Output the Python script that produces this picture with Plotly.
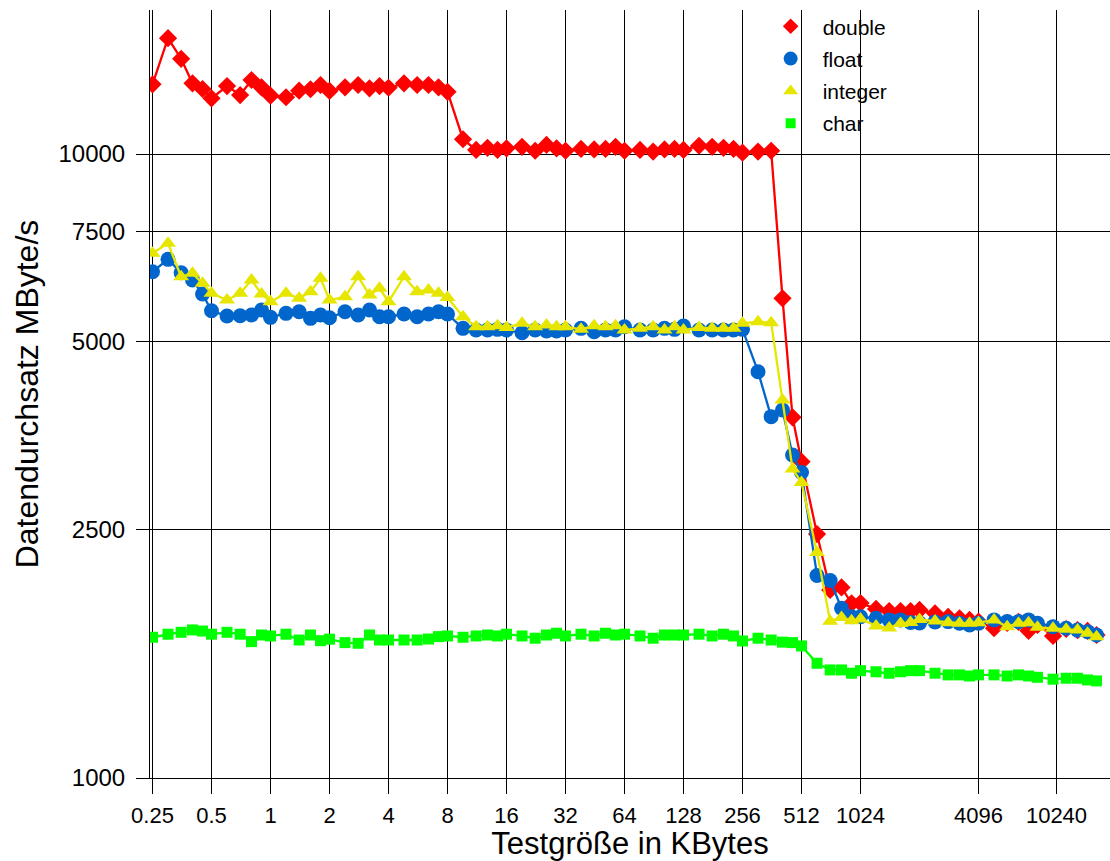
import plotly.graph_objects as go

sizes_kb = [0.25, 0.3, 0.35, 0.4, 0.45,
            0.5, 0.6, 0.7, 0.8, 0.9,
            1, 1.2, 1.4, 1.6, 1.8,
            2, 2.4, 2.8, 3.2, 3.6,
            4, 4.8, 5.6, 6.4, 7.2,
            8, 9.6, 11.2, 12.8, 14.4,
            16, 19.2, 22.4, 25.6, 28.8,
            32, 38.4, 44.8, 51.2, 57.6,
            64, 76.8, 89.6, 102.4, 115.2,
            128, 153.6, 179.2, 204.8, 230.4,
            256, 307.2, 358.4, 409.6, 460.8,
            512, 614.4, 716.8, 819.2, 921.6,
            1024, 1228.8, 1433.6, 1638.4, 1843.2,
            2048, 2457.6, 2867.2, 3276.8, 3686.4,
            4096, 4915.2, 5734.4, 6553.6, 7372.8,
            8192, 9830.4, 11468.8, 13107.2, 14745.6,
            16384]

double_vals = [12930, 15330, 14210, 12980, 12710,
               12280, 12850, 12430, 13140, 12790,
               12400, 12330, 12630, 12700, 12900,
               12620, 12790, 12900, 12740, 12850,
               12770, 12980, 12900, 12900, 12790,
               12580, 10560, 10150, 10230, 10150,
               10210, 10270, 10120, 10340, 10210,
               10120, 10190, 10170, 10190, 10270,
               10120, 10150, 10090, 10170, 10190,
               10150, 10310, 10270, 10230, 10190,
               10050, 10090, 10120, 5871, 3785,
               3213, 2460, 2001, 2020, 1905,
               1907, 1866, 1852, 1852, 1852,
               1859, 1836, 1813, 1803, 1792,
               1781, 1738, 1772, 1779, 1721,
               1759, 1689, 1733, 1726, 1721,
               1695]

float_vals = [6476, 6779, 6452, 6281, 5965,
              5608, 5500, 5506, 5520, 5623,
              5473, 5554, 5587, 5453, 5520,
              5465, 5587, 5520, 5623, 5485,
              5485, 5540, 5485, 5540, 5587,
              5540, 5255, 5222, 5222, 5236,
              5222, 5170, 5222, 5203, 5203,
              5222, 5255, 5190, 5222, 5222,
              5287, 5222, 5222, 5255, 5236,
              5300, 5222, 5222, 5222, 5222,
              5236, 4478, 3794, 3889, 3294,
              3087, 2111, 2073, 1871, 1813,
              1813, 1803, 1792, 1792, 1775,
              1772, 1779, 1781, 1770, 1759,
              1770, 1792, 1781, 1781, 1792,
              1770, 1748, 1738, 1726, 1716,
              1695]

integer_vals = [6931, 7192, 6358, 6438, 6205,
                5980, 5834, 5980, 6281, 5965,
                5797, 5980, 5871, 6015, 6320,
                5834, 5905, 6358, 5943, 6091,
                5797, 6358, 6015, 6053, 5980,
                5890, 5485, 5287, 5287, 5306,
                5274, 5353, 5287, 5320, 5287,
                5287, 5236, 5306, 5287, 5306,
                5222, 5255, 5287, 5222, 5287,
                5222, 5274, 5255, 5255, 5255,
                5353, 5385, 5366, 4035, 3127,
                2976, 2298, 1784, 1808, 1786,
                1798, 1753, 1740, 1769, 1775,
                1794, 1785, 1774, 1770, 1770,
                1774, 1792, 1748, 1770, 1774,
                1744, 1738, 1731, 1726, 1706,
                1684]

char_vals = [1681, 1700, 1712, 1727, 1720,
             1700, 1712, 1700, 1654, 1695,
             1689, 1700, 1664, 1695, 1660,
             1669, 1648, 1644, 1695, 1664,
             1664, 1664, 1664, 1670, 1685,
             1689, 1681, 1689, 1695, 1689,
             1700, 1689, 1675, 1695, 1706,
             1689, 1700, 1689, 1706, 1695,
             1700, 1689, 1675, 1695, 1695,
             1695, 1700, 1689, 1700, 1689,
             1658, 1675, 1664, 1651, 1648,
             1628, 1527, 1490, 1490, 1472,
             1486, 1480, 1472, 1480, 1486,
             1486, 1472, 1463, 1463, 1457,
             1463, 1463, 1457, 1463, 1457,
             1450, 1440, 1445, 1445, 1436,
             1431]

x_tickvals = [0.25, 0.5, 1, 2, 4, 8, 16, 32, 64, 128, 256, 512, 1024, 4096, 10240]
x_ticktext = ["0.25", "0.5", "1", "2", "4", "8", "16", "32", "64", "128", "256", "512", "1024", "4096", "10240"]
y_tickvals = [1000, 2500, 5000, 7500, 10000]
y_ticktext = ["1000", "2500", "5000", "7500", "10000"]

series = [
    ("double", double_vals, "#ff0000", "diamond", 14, 12, 2.3),
    ("float", float_vals, "#0066cc", "circle", 15, 14, 2.3),
    ("integer", integer_vals, "#e6e600", "triangle-up", 14, 13, 2.3),
    ("char", char_vals, "#00ff00", "square", 11, 10, 2.3),
]

FONT = "Arial, Liberation Sans, Helvetica, sans-serif"

fig = go.Figure()
for name, vals, color, sym, msize, lsize, lw in series:
    fig.add_trace(go.Scatter(
        x=sizes_kb, y=vals, mode="lines+markers", name=name,
        line=dict(color=color, width=lw),
        marker=dict(symbol=sym, size=msize, color=color, line=dict(width=0)),
        showlegend=False,
    ))
for name, vals, color, sym, msize, lsize, lw in series:
    fig.add_trace(go.Scatter(
        x=[None], y=[None], mode="markers", name=name,
        marker=dict(symbol=sym, size=lsize, color=color, line=dict(width=0)),
        showlegend=True, legendgroup=name,
    ))

axis_common = dict(
    showgrid=True, gridcolor="black", gridwidth=1,
    showline=True, linecolor="black", linewidth=1,
    ticks="outside", tickcolor="black", tickwidth=1,
    zeroline=False, automargin=False,
)

fig.update_layout(
    width=1110, height=861,
    margin=dict(l=150, r=0, t=10, b=83),
    paper_bgcolor="white", plot_bgcolor="white",
    font=dict(family=FONT, color="black"),
    xaxis=dict(
        type="log", range=[-0.6148, 4.2832],
        tickmode="array", tickvals=x_tickvals, ticktext=x_ticktext,
        ticklen=15, ticklabelstandoff=3,
        tickfont=dict(family=FONT, size=22, color="black"),
        title=dict(text="Testgröße in KBytes", font=dict(family=FONT, size=31, color="black"), standoff=9),
        **axis_common,
    ),
    yaxis=dict(
        type="log", range=[3, 4.23077],
        tickmode="array", tickvals=y_tickvals, ticktext=y_ticktext,
        ticklen=13, ticklabelstandoff=6,
        tickfont=dict(family=FONT, size=24, color="black"),
        title=dict(text="Datendurchsatz MByte/s", font=dict(family=FONT, size=32, color="black"), standoff=10),
        **axis_common,
    ),
    legend=dict(
        x=0.634, y=1.005, xanchor="left", yanchor="top",
        font=dict(family=FONT, size=21, color="black"),
        bgcolor="rgba(0,0,0,0)", borderwidth=0,
        traceorder="grouped", tracegroupgap=2,
        itemwidth=54,
    ),
)

fig.write_html(
    "out.html",
    config={"displayModeBar": False},
    post_script="document.body.style.margin='0';document.body.style.overflow='hidden';",
)
